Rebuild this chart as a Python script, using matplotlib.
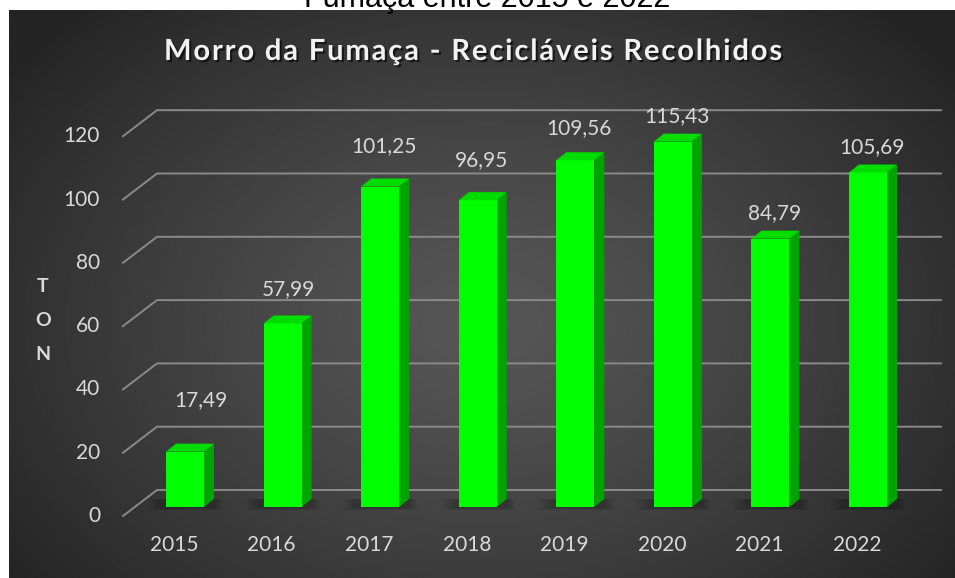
import numpy as np
import matplotlib
matplotlib.use("Agg")
import matplotlib.pyplot as plt
from matplotlib.patches import Polygon
import matplotlib.patheffects as pe

years = ["2015", "2016", "2017", "2018", "2019", "2020", "2021", "2022"]
tons = [17.49, 57.99, 101.25, 96.95, 109.56, 115.43, 84.79, 105.69]
value_labels = ["17,49", "57,99", "101,25", "96,95", "109,56", "115,43", "84,79", "105,69"]
yticks = [0, 20, 40, 60, 80, 100, 120]

title = "Morro da Fumaça - Recicláveis Recolhidos"
top_text = "Fumaça entre 2015 e 2022"

W, H = 955, 578
FONT = ["Lato", "DejaVu Sans"]
TXT = "#d9d9d9"

# pixel layout of the 3d-ish plot
PX0, DX = 185.0, 97.57      # first bar centre, bar spacing
PY0, SY = 71.0, 3.165       # bar base (from bottom), px per ton
LEFT_PX, RIGHT_PX = 123.0, 941.0
DEPTH = (10, 8)             # bar depth offset
WALL = (34, 26)             # floor depth offset
FLOOR_DROP = 9              # front floor edge below bar base
# Excel placed the labels a bit irregularly
label_lift = [52, 34, 40, 40, 32, 26, 26, 25]
label_shift = [12, 2, 0, 0, 0, 0, 0, 0]

fig = plt.figure(figsize=(W / 100, H / 100), dpi=100)
fig.patch.set_facecolor("white")

# background panel with radial gradient
bg = fig.add_axes([9 / W, 0, 946 / W, 568 / H])
yy, xx = np.mgrid[0:1:300j, 0:1:500j]
r = np.sqrt(((xx - 0.5) / 0.62) ** 2 + ((yy - 0.55) / 0.75) ** 2)
shade = 0x57 - (0x57 - 0x25) * np.clip(r, 0, 1) ** 1.2
bg.imshow(shade / 255.0, cmap="gray", vmin=0, vmax=1, aspect="auto", extent=[0, 1, 0, 1])
bg.set_axis_off()

# main axes, placed so data units map onto the measured pixels
x_lo = (LEFT_PX - PX0) / DX
x_hi = (RIGHT_PX - PX0) / DX
y_lo = -(PY0 - 62) / SY
y_hi = 135
ax = fig.add_axes([LEFT_PX / W, 62 / H, (RIGHT_PX - LEFT_PX) / W, (y_hi - y_lo) * SY / H])
ax.set_xlim(x_lo, x_hi)
ax.set_ylim(y_lo, y_hi)
ax.set_axis_off()
ax.patch.set_alpha(0)

x = np.arange(len(years))
tr = ax.transData

# gridlines: diagonal on the floor side + horizontal on the back wall
for v in yticks:
    fx, fy = tr.transform((x_lo, v))
    fy -= FLOOR_DROP
    bx, by = fx + WALL[0], fy + WALL[1]
    ex = tr.transform((x_hi, v))[0]
    ax.plot([fx, bx, ex], [fy, by, by], transform=None, color="#8a8a8a",
            lw=1.4, zorder=1, clip_on=False)
    ax.annotate(str(v), xy=(x_lo, v), xycoords="data", xytext=(-23, -FLOOR_DROP),
                textcoords="offset pixels", ha="right", va="center",
                fontsize=15, color=TXT, family=FONT)

bars = ax.bar(x, tons, width=0.39, color="#00ff00", zorder=4, linewidth=0)

for i, b in enumerate(bars):
    x0, x1 = b.get_x(), b.get_x() + b.get_width()
    (lx, by0), (rx, ty) = tr.transform([(x0, 0), (x1, b.get_height())])
    dx, dy = DEPTH
    # soft shadow on the floor, mostly to the left of the base
    for k in range(5):
        g = 2 + k * 3
        ax.add_patch(Polygon([(lx - g - 4, by0 - 1 - k * 0.6), (rx + dx + g * 0.6, by0 - 1 - k * 0.6),
                              (rx + dx + g * 0.6, by0 + dy), (lx - g - 4, by0 + dy)],
                             closed=True, transform=None, facecolor="black",
                             alpha=0.045, lw=0, zorder=2))
    side = [(rx, by0), (rx, ty), (rx + dx, ty + dy), (rx + dx, by0 + dy)]
    top = [(lx, ty), (rx, ty), (rx + dx, ty + dy), (lx + dx, ty + dy)]
    ax.add_patch(Polygon(side, closed=True, transform=None, facecolor="#00a400",
                         lw=0, zorder=3))
    ax.add_patch(Polygon(top, closed=True, transform=None, facecolor="#00dc00",
                         lw=0, zorder=5))
    ax.annotate(value_labels[i], xy=(x[i], tons[i]), xycoords="data",
                xytext=(label_shift[i] + 4, label_lift[i]), textcoords="offset pixels",
                ha="center", va="center", fontsize=15, color=TXT, family=FONT)
    ax.annotate(years[i], xy=(x[i], 0), xycoords="data", xytext=(-11, -38),
                textcoords="offset pixels", ha="center", va="center",
                fontsize=15, color=TXT, family=FONT)

# axis title, letters stacked
for k, ch in enumerate("TON"):
    fig.text(43 / W, 1 - (286 + 34.5 * k) / H, ch, ha="center", va="center",
             fontsize=14, fontweight="bold", color=TXT, family=FONT)

spaced = "\u200a".join(title)
fig.text(474 / W, 1 - 52 / H, spaced, ha="center", va="center", fontsize=21,
         fontweight="bold", color="#f2f2f2", family=FONT,
         path_effects=[pe.withSimplePatchShadow(offset=(1.5, -1.5), shadow_rgbFace="black", alpha=0.6)])

# top of the original caption, cut off by the image edge
fig.text(487 / W, 1 - 7 / H, top_text, ha="center", va="baseline", fontsize=22,
         color="black", family=["Liberation Sans", "DejaVu Sans"])

fig.savefig("out.png", dpi=100)
